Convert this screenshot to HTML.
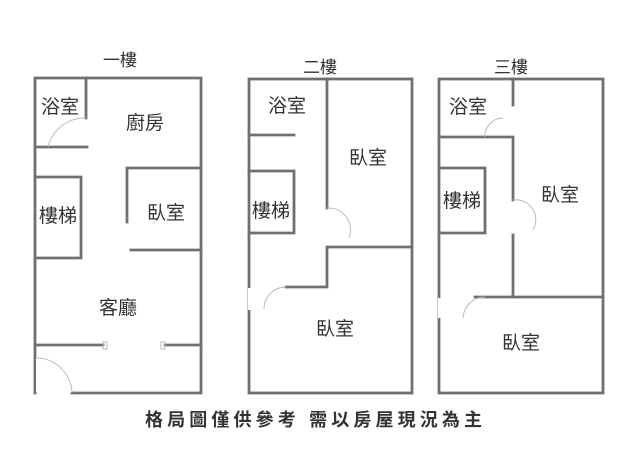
<!DOCTYPE html>
<html><head><meta charset="utf-8"><style>
html,body{margin:0;padding:0;background:#fff;}
svg{display:block}
text{font-family:"Liberation Sans","Noto Sans CJK TC",sans-serif;fill:#333}
</style></head><body>
<svg width="640" height="455" viewBox="0 0 640 455" xmlns="http://www.w3.org/2000/svg">
<g stroke="#707070" stroke-width="2.8" fill="none" stroke-linecap="square">
<!-- Floor 1 -->
<polyline points="72,393 201,393 201,78 35,78 35,393"/>
<line x1="86" y1="78" x2="86" y2="118"/>
<line x1="35" y1="147" x2="87" y2="147"/>
<polyline points="35,177 81,177 81,258 35,258"/>
<polyline points="127,222 127,168 201,168"/>
<line x1="131" y1="250" x2="201" y2="250"/>
<line x1="35" y1="345" x2="103" y2="345"/>
<line x1="165" y1="345" x2="201" y2="345"/>
<!-- Floor 2 -->
<rect x="249" y="79" width="163" height="314"/>
<line x1="327" y1="79" x2="327" y2="208"/>
<line x1="249" y1="135" x2="294" y2="135"/>
<polyline points="249,171 294,171 294,233 249,233"/>
<polyline points="412,247 327,247 327,287 286,287"/>
<!-- Floor 3 -->
<rect x="439" y="79" width="164" height="314"/>
<line x1="513" y1="79" x2="513" y2="105"/>
<polyline points="439,137 513,137 513,200"/>
<line x1="513" y1="235" x2="513" y2="297"/>
<line x1="475" y1="297" x2="603" y2="297"/>
<polyline points="439,168 485,168 485,233 439,233"/>
</g>
<g fill="#fff">
<rect x="36" y="358" width="36" height="34"/>
<rect x="248" y="288" width="3" height="22"/>
<rect x="438" y="298" width="3" height="20"/>
</g>
<g stroke="#bbb" stroke-width="1" fill="none">
<path d="M36,358 A36,36 0 0 1 72,393"/>
<path d="M48,147 A38,38 0 0 1 86,118"/>
<path d="M327,208 A22,22 0 0 1 349,238"/>
<path d="M513,200 A20,20 0 0 1 533,230"/>
<path d="M485,297 A22,22 0 0 0 463,318"/>
<path d="M286,287 A22,22 0 0 0 264,309"/>
<path d="M485,137 A18,18 0 0 1 503,118"/>
<rect x="103" y="342" width="4" height="7"/>
<rect x="161" y="342" width="4" height="7"/>
</g>
<g font-size="17" text-anchor="middle">
<text x="120" y="66">一樓</text>
<text x="320" y="73">二樓</text>
<text x="511" y="73">三樓</text>
</g>
<g font-size="19" text-anchor="middle">
<text x="60" y="113">浴室</text>
<text x="145" y="129">廚房</text>
<text x="58" y="222">樓梯</text>
<text x="166" y="219">臥室</text>
<text x="118" y="314">客廳</text>
<text x="287" y="112">浴室</text>
<text x="368" y="164">臥室</text>
<text x="271" y="217">樓梯</text>
<text x="335" y="335">臥室</text>
<text x="468" y="113">浴室</text>
<text x="560" y="201">臥室</text>
<text x="462" y="207">樓梯</text>
<text x="521" y="349">臥室</text>
</g>
<text x="145" y="426" font-size="18" font-weight="bold" textLength="337" lengthAdjust="spacing" fill="#3a3a3a">格局圖僅供參考 需以房屋現況為主</text>
</svg>
</body></html>
